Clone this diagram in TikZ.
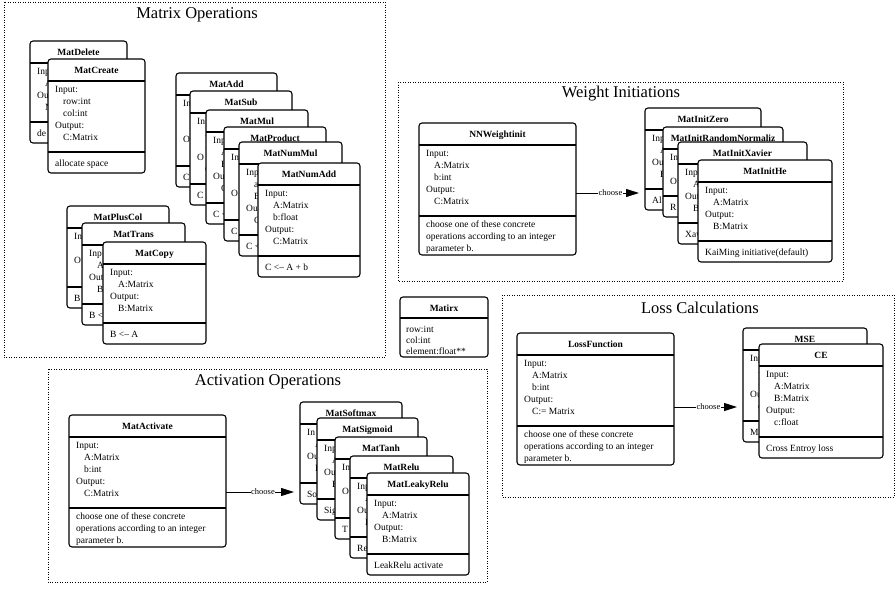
\documentclass[tikz,border=0pt]{standalone}
\usepackage{fontspec}
\setmainfont{Liberation Serif}
\usetikzlibrary{arrows.meta}

\newcommand\ind{\hspace*{8pt}}

\tikzset{
  card/.style={draw, line width=1.1pt, rounded corners=3pt, fill=white,
    anchor=north west, inner sep=0pt, outer sep=0pt},
  cardsep/.style={line width=1.1pt},
  cardtitle/.style={font=\fontsize{9.5}{12}\selectfont\bfseries, inner sep=0pt, anchor=base},
  cardline/.style={font=\fontsize{9.5}{12}\selectfont, inner sep=0pt, anchor=base west},
  group/.style={draw, line width=0.8pt, dash pattern=on 0.9pt off 1.6pt},
  grouptitle/.style={font=\fontsize{16.5}{20}\selectfont, inner sep=0pt},
  choice/.style={line width=1pt, -{Triangle[length=13pt,width=8pt]}, shorten >=6pt},
  choicelabel/.style={font=\fontsize{8.5}{9}\selectfont, fill=white, inner sep=0.6pt},
}

% \card{name}{left}{top}{width}{title}{#body lines}{body lines}{#footer lines}{footer lines}
% Cards further back in a stack only carry the part of each line left uncovered.
\newcommand\card[9]{%
  \pgfmathsetmacro\cardB{12*#6+11}%
  \pgfmathsetmacro\cardF{9*#8+12}%
  \pgfmathsetmacro\cardH{22+\cardB+\cardF}%
  \pgfmathsetmacro\cardFo{(\cardF-12*(#8-1))/2+0.5}%
  \node[card, minimum width=#4pt, minimum height=\cardH pt] (#1) at (#2,#3) {};
  \draw[cardsep] (#2,#3+22) -- ++(#4,0);
  \draw[cardsep] (#2,#3+22+\cardB) -- ++(#4,0);
  \node[cardtitle] at (#2+#4/2,#3+11+3.4) {#5};
  \foreach \l [count=\i] in {#7}
    \node[cardline] at (#2+7,#3+22+8+12*\i-12+3.3) {\l};
  \foreach \l [count=\i] in {#9}
    \node[cardline] at (#2+7,#3+22+\cardB+\cardFo+12*\i-12+3.3) {\l};
}

\begin{document}
\begin{tikzpicture}[x=1pt,y=-1pt]
\useasboundingbox (0,0) rectangle (896,589);

% group frames
\draw[group] (4,2) rectangle (385,357);
\node[grouptitle] (tmat) at (197,15) {Matrix Operations};
\draw[group] (398,82) rectangle (843,281);
\node[grouptitle] (twgt) at (621,94) {Weight Initiations};
\draw[group] (502,295) rectangle (894,497);
\node[grouptitle] (tloss) at (700,308) {Loss Calculations};
\draw[group] (48,369) rectangle (487,582);
\node[grouptitle] (tact) at (268,382) {Activation Operations};

% matrix operations
\card{mdel}{30}{41}{97}{MatDelete}{4}{Inp,\ind A:,Ou,\ind N}{1}{de}
\card{mcre}{48}{59}{97}{MatCreate}{5}{Input:,\ind row:int,\ind col:int,Output:,\ind C:Matrix}{1}{allocate space}

\card{madd}{176}{73}{101}{MatAdd}{5}{In,\ind A,{},O,{}}{1}{C}
\card{msub}{190}{91}{102}{MatSub}{5}{In,\ind A,\ind B,O,\ind C}{1}{C}
\card{mmul}{206}{110}{102}{MatMul}{5}{Inp,\ind A,\ind B,Ou,\ind C}{1}{C <}
\card{mprod}{224}{127}{102}{MatProduct}{5}{In,\ind A,\ind B,O,\ind C}{1}{C}
\card{mnmul}{239}{142}{103}{MatNumMul}{5}{Inp,\ind a:,\ind B,Ou,\ind C}{1}{C <}
\card{mnadd}{258}{163}{102}{MatNumAdd}{5}{Input:,\ind A:Matrix,\ind b:float,Output:,\ind C:Matrix}{1}{C <-- A + b}

\card{mplus}{67}{206}{102}{MatPlusCol}{4}{In,{},O,{}}{1}{B}
\card{mtrans}{82}{223}{103}{MatTrans}{4}{Inp,\ind A,Out,\ind B}{1}{B <}
\card{mcopy}{103}{242}{103}{MatCopy}{4}{Input:,\ind A:Matrix,Output:,\ind B:Matrix}{1}{B <-- A}

% weight initiations
\card{nnw}{419}{123}{157}{NNWeightinit}{5}{Input:,\ind A:Matrix,\ind b:int,Output:,\ind C:Matrix}{3}{choose one of these concrete,operations according to an integer,parameter b.}
\card{izero}{645}{108}{116}{MatInitZero}{4}{Inp,\ind A,Ou,\ind B}{1}{Al}
\card{irand}{663}{127}{120}{MatInitRandomNormaliz}{3}{In,\ind A,O}{1}{R}
\card{ixav}{678}{142}{129}{MatInitXavier}{4}{Inp,\ind A,Out,\ind B}{1}{Xav}
\card{ihe}{698}{160}{134}{MatInitHe}{4}{Input:,\ind A:Matrix,Output:,\ind B:Matrix}{1}{KaiMing initiative(default)}
\draw[choice] (nnw.east |- 0,193) -- (izero.west |- 0,193)
  node[midway, choicelabel] (cw) {choose};

% matrix structure
\node[card, minimum width=88pt, minimum height=60pt] (matirx) at (400,297) {};
\draw[cardsep] (400,318) -- ++(88,0);
\node[cardtitle] (matirxt) at (444,311.5) {Matirx};
\node[cardline] (mr1) at (406,332) {row:int};
\node[cardline] (mr2) at (406,343) {col:int};
\node[cardline] (mr3) at (406,354) {element:float**};

% loss calculations
\card{lossf}{517}{333}{157}{LossFunction}{5}{Input:,\ind A:Matrix,\ind b:int,Output:,\ind C:= Matrix}{3}{choose one of these concrete,operations according to an integer,parameter b.}
\card{mse}{743}{328}{124}{MSE}{5}{Inp,\ind A,\ind B,Ou,\ind c}{1}{M}
\card{ce}{759}{344}{124}{CE}{5}{Input:,\ind A:Matrix,\ind B:Matrix,Output:,\ind c:float}{1}{Cross Entroy loss}
\draw[choice] (lossf.east |- 0,407) -- (mse.west |- 0,407)
  node[midway, choicelabel] (cl) {choose};

% activation operations
\card{mact}{69}{415}{157}{MatActivate}{5}{Input:,\ind A:Matrix,\ind b:int,Output:,\ind C:Matrix}{3}{choose one of these concrete,operations according to an integer,parameter b.}
\card{asoft}{300}{402}{102}{MatSoftmax}{4}{In,\ind A,Ou,\ind B}{1}{So}
\card{asig}{317}{418}{101}{MatSigmoid}{4}{Inp,\ind A,Ou,\ind B}{1}{Sig}
\card{atanh}{335}{437}{92}{MatTanh}{4}{In,\ind A,O,{}}{1}{T}
\card{arelu}{350}{456}{103}{MatRelu}{4}{Inp,\ind A,Ou,\ind B}{1}{Re}
\card{aleaky}{367}{473}{102}{MatLeakyRelu}{4}{Input:,\ind A:Matrix,Output:,\ind B:Matrix}{1}{LeakRelu activate}
\draw[choice] (mact.east |- 0,492) -- (asoft.west |- 0,492)
  node[midway, choicelabel] (ca) {choose};
\end{tikzpicture}
\end{document}
